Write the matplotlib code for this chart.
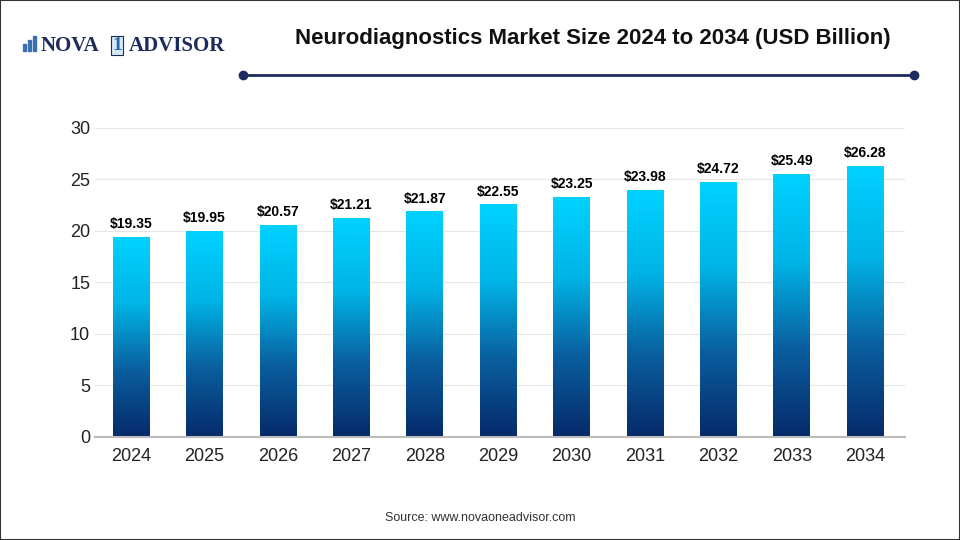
import matplotlib
matplotlib.use("Agg")
import matplotlib.pyplot as plt
import numpy as np
from matplotlib.colors import LinearSegmentedColormap
from matplotlib.patches import Rectangle
from matplotlib.lines import Line2D

years = ["2024","2025","2026","2027","2028","2029","2030","2031","2032","2033","2034"]
values = [19.35,19.95,20.57,21.21,21.87,22.55,23.25,23.98,24.72,25.49,26.28]
yticks = [0,5,10,15,20,25,30]

fig = plt.figure(figsize=(9.6,5.4), dpi=100)
ax = fig.add_axes([0.099,0.191,0.844,0.572])
cmap = LinearSegmentedColormap.from_list("g", ["#062a6a", "#0a5e9e", "#00b4e6", "#00d2ff"])
x = np.arange(len(years))
w = 0.5
grad = np.linspace(0,1,256).reshape(-1,1)
ax.bar(x, values, width=w, color="none")
for xi, v in zip(x, values):
    ax.imshow(grad, cmap=cmap, origin="lower", aspect="auto",
              extent=[xi-w/2, xi+w/2, 0, v], zorder=2)
    ax.text(xi, v+0.6, f"${v:.2f}", ha="center", va="bottom", fontsize=10, fontweight="bold", fontfamily="Liberation Sans")
ax.set_xlim(-0.49, 10.545)
ax.set_ylim(0,30)
ax.set_yticks(yticks)
ax.set_xticks(x)
ax.set_xticklabels(years)
ax.tick_params(length=0, labelsize=13, colors="#222222")
ax.tick_params(axis="x", pad=8)
for lab in ax.get_xticklabels()+ax.get_yticklabels():
    lab.set_fontfamily("Liberation Sans")
ax.grid(axis="y", color="#e6e6e6", lw=0.8, zorder=0)
ax.set_axisbelow(True)
for s in ["top","right","left"]:
    ax.spines[s].set_visible(False)
ax.spines["bottom"].set_color("#bbbbbb")
ax.spines["bottom"].set_linewidth(1.5)

fig.text(0.618, 0.928, "Neurodiagnostics Market Size 2024 to 2034 (USD Billion)", ha="center", va="center",
         fontsize=16, fontweight="bold", fontfamily="Liberation Sans", color="#111111")
fig.add_artist(Line2D([0.253,0.952],[0.862,0.862], color="#1d2b5c", lw=2, transform=fig.transFigure))
fig.add_artist(Line2D([0.253,0.952],[0.862,0.862], color="#1d2b5c", lw=0, marker="o", markersize=6, transform=fig.transFigure))
# logo
for i, hgt in enumerate([0.012, 0.02, 0.028]):
    fig.add_artist(Rectangle((0.024+i*0.005, 0.906), 0.003, hgt, transform=fig.transFigure, color="#3a6fb0"))
fig.text(0.042, 0.915, "NOVA", fontsize=15, fontweight="bold", fontfamily="Liberation Serif", color="#1d2b5c", va="center")
fig.text(0.117, 0.915, "1", fontsize=14, fontweight="bold", fontfamily="Liberation Serif", color="#1d6fb3", va="center",
         bbox=dict(boxstyle="square,pad=0.05", fc="#d9e8f5", ec="#1d2b5c", lw=0.8))
fig.text(0.134, 0.915, "ADVISOR", fontsize=15, fontweight="bold", fontfamily="Liberation Serif", color="#1d2b5c", va="center")
fig.text(0.5, 0.04, "Source: www.novaoneadvisor.com", ha="center", va="center", fontsize=9, fontfamily="Liberation Sans", color="#333333")
fig.add_artist(Rectangle((0,0),1,1, transform=fig.transFigure, fill=False, ec="#333333", lw=1.5))
fig.savefig("out.png", dpi=100)
